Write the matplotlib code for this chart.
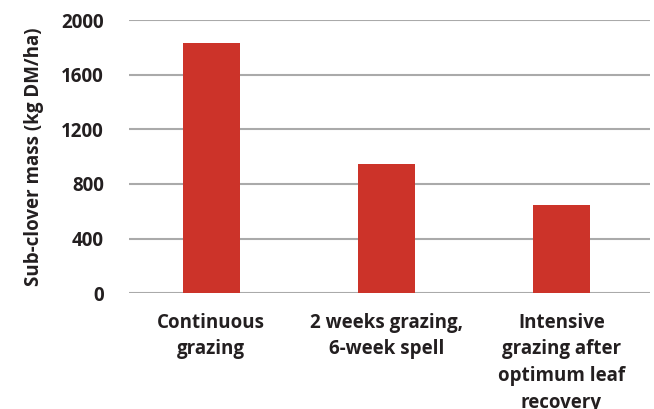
import matplotlib
matplotlib.use("Agg")
import matplotlib.pyplot as plt

categories = ["Continuous\ngrazing", "2 weeks grazing,\n6-week spell",
              "Intensive\ngrazing after\noptimum leaf\nrecovery"]
values = [1830, 945, 645]
yticks = [0, 400, 800, 1200, 1600, 2000]
ylabel = "Sub-clover mass (kg DM/ha)"

plt.rcParams['font.family'] = ['Open Sans', 'DejaVu Sans']
txt = "#231f20"

fig = plt.figure(figsize=(6.54, 4.09), dpi=100)
ax = fig.add_axes([0.197, 0.283, 0.797, 0.668])
x = list(range(len(categories)))
ax.bar(x, values, width=0.326, color="#cc3329", zorder=3)
ax.set_xlim(-0.471, 2.506)
ax.set_ylim(0, 2000)
ax.set_yticks(yticks)
ax.set_yticklabels([str(t) for t in yticks], fontsize=13.5, fontweight="bold", color=txt)
ax.set_xticks(x)
ax.set_xticklabels(categories, fontsize=13.5, fontweight="bold", color=txt, linespacing=1.45, va="top")
ax.tick_params(axis="both", length=0)
ax.tick_params(axis="y", pad=18)
ax.tick_params(axis="x", pad=14)
ax.yaxis.grid(True, color="#aaaaaa", linewidth=1.5, zorder=0)
ax.set_axisbelow(True)
for s in ax.spines.values():
    s.set_visible(False)
ax.set_ylabel(ylabel, fontsize=13.5, fontweight="bold", color=txt, labelpad=12)
fig.savefig("out.png", dpi=100)
